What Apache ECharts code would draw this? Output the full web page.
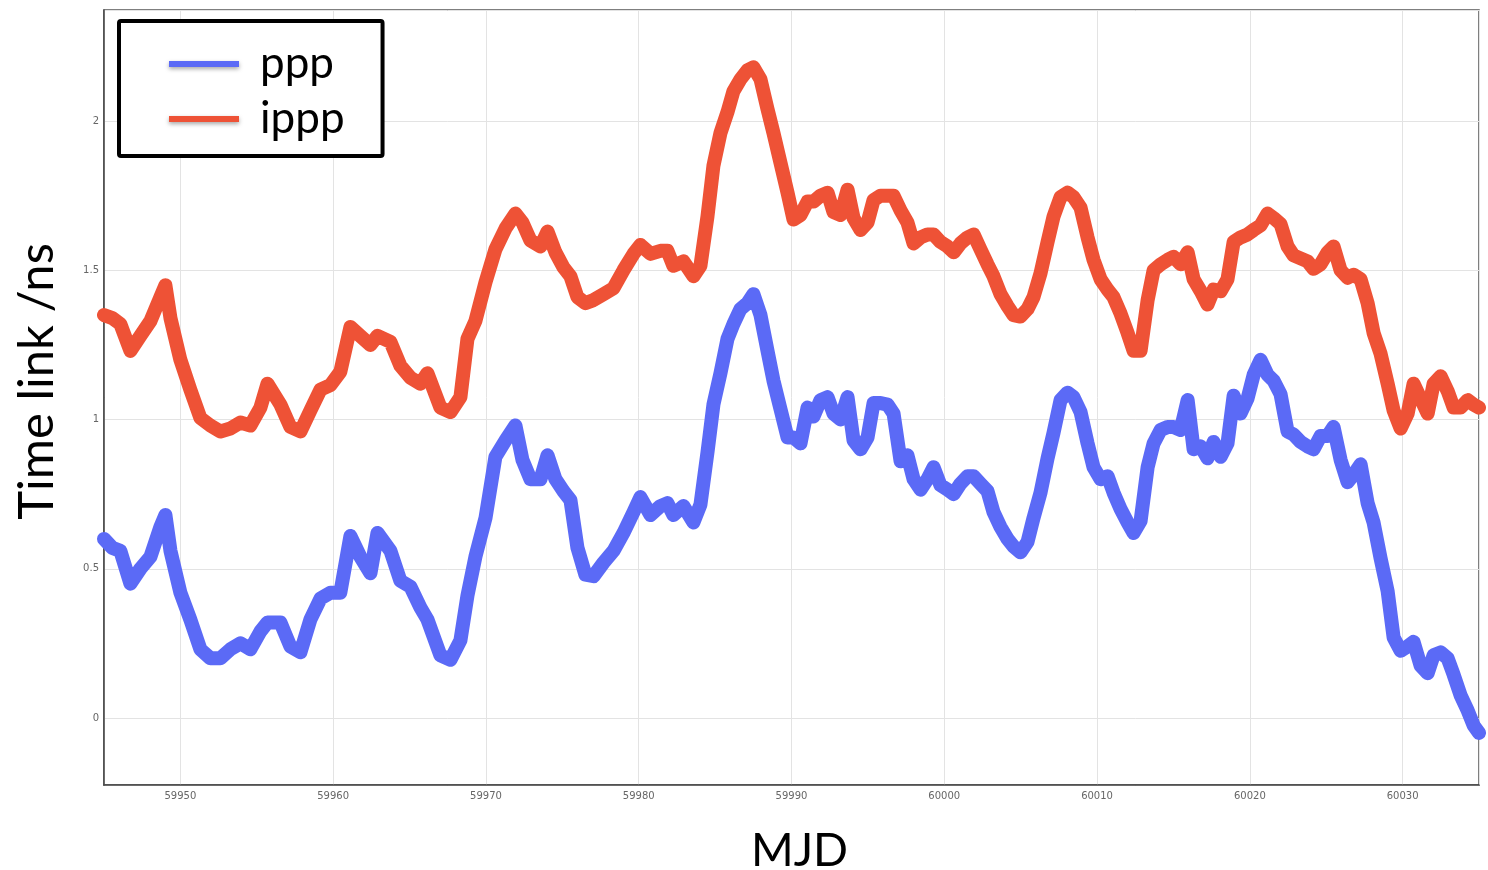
<!DOCTYPE html>
<html>
<head>
<meta charset="utf-8">
<script src="https://cdn.jsdelivr.net/npm/echarts@6/dist/echarts.min.js"></script>
<style>
html,body{margin:0;padding:0;background:#fff;}
#chart{width:1488px;height:870px;}
</style>
</head>
<body>
<div id="chart"></div>
<script>
// MJD sample positions (shared by both series)
const mjd = [
59945.0,59945.55,59946.07,59946.73,59947.38,59948.04,59948.69,59949.02,59949.35,59950.0,
59950.65,59951.31,59951.96,59952.62,59953.27,59953.93,59954.58,59955.24,59955.70,59956.55,
59957.20,59957.86,59958.51,59959.17,59959.82,59960.47,59961.13,59961.78,59962.44,59962.90,
59963.75,59964.40,59965.06,59965.71,59966.17,59967.02,59967.68,59968.33,59968.79,59969.31,
59969.97,59970.62,59971.28,59971.93,59972.39,59972.91,59973.57,59974.03,59974.55,59975.07,
59975.53,59975.99,59976.51,59977.04,59977.69,59978.35,59979.00,59979.66,59980.11,59980.77,
59981.42,59981.88,59982.27,59982.93,59983.58,59984.04,59984.50,59984.89,59985.35,59985.81,
59986.20,59986.66,59987.12,59987.51,59987.97,59988.43,59988.82,59989.28,59989.74,59990.13,
59990.59,59991.05,59991.44,59991.90,59992.36,59992.75,59993.21,59993.67,59994.06,59994.52,
59994.98,59995.37,59995.83,59996.29,59996.68,59997.14,59997.59,59997.99,59998.45,59998.90,
59999.30,59999.75,60000.21,60000.61,60001.06,60001.52,60001.92,60002.37,60002.83,60003.22,
60003.68,60004.14,60004.53,60004.99,60005.45,60005.84,60006.30,60006.76,60007.15,60007.61,
60008.07,60008.46,60008.92,60009.38,60009.77,60010.23,60010.69,60011.08,60011.54,60012.00,
60012.39,60012.85,60013.31,60013.70,60014.16,60014.62,60015.01,60015.47,60015.93,60016.32,
60016.78,60017.23,60017.63,60018.09,60018.54,60018.94,60019.39,60019.85,60020.25,60020.70,
60021.16,60021.56,60022.01,60022.47,60022.86,60023.32,60023.78,60024.17,60024.63,60025.09,
60025.48,60025.94,60026.40,60026.79,60027.25,60027.71,60028.10,60028.56,60029.02,60029.41,
60029.87,60030.33,60030.72,60031.18,60031.64,60032.03,60032.49,60032.95,60033.34,60033.80,
60034.26,60034.65,60035.0
];

const ppp = [
0.60,0.57,0.56,0.45,0.50,0.54,0.64,0.68,0.56,0.42,
0.33,0.23,0.20,0.20,0.23,0.25,0.23,0.29,0.32,0.32,
0.24,0.22,0.33,0.40,0.42,0.42,0.61,0.54,0.485,0.62,
0.56,0.46,0.44,0.37,0.33,0.21,0.195,0.26,0.41,0.54,
0.67,0.875,0.93,0.98,0.865,0.80,0.80,0.88,0.80,0.76,
0.73,0.57,0.48,0.475,0.52,0.56,0.62,0.69,0.74,0.68,
0.71,0.72,0.68,0.71,0.655,0.715,0.89,1.05,1.155,1.27,
1.32,1.37,1.39,1.42,1.35,1.23,1.13,1.035,0.94,0.94,
0.92,1.04,1.01,1.065,1.075,1.02,1.00,1.075,0.93,0.90,
0.94,1.055,1.055,1.05,1.02,0.86,0.88,0.80,0.765,0.80,
0.84,0.78,0.765,0.75,0.785,0.81,0.81,0.785,0.76,0.69,
0.64,0.60,0.575,0.555,0.59,0.67,0.755,0.87,0.955,1.065,
1.09,1.075,1.025,0.92,0.84,0.80,0.81,0.755,0.70,0.655,
0.62,0.66,0.84,0.92,0.965,0.975,0.975,0.965,1.065,0.90,
0.91,0.87,0.925,0.875,0.92,1.08,1.02,1.07,1.15,1.20,
1.15,1.13,1.085,0.96,0.95,0.925,0.91,0.90,0.945,0.945,
0.975,0.865,0.79,0.815,0.85,0.72,0.655,0.535,0.425,0.27,
0.225,0.24,0.255,0.175,0.15,0.21,0.22,0.20,0.145,0.075,
0.025,-0.025,-0.05
];

const ippp = [
1.35,1.34,1.32,1.23,1.28,1.33,1.41,1.45,1.34,1.20,
1.10,1.005,0.98,0.96,0.97,0.99,0.98,1.04,1.12,1.05,
0.975,0.96,1.03,1.10,1.115,1.16,1.31,1.28,1.25,1.28,
1.26,1.18,1.14,1.12,1.155,1.04,1.025,1.075,1.27,1.33,
1.46,1.57,1.64,1.69,1.66,1.60,1.58,1.63,1.56,1.51,
1.48,1.41,1.39,1.40,1.42,1.44,1.50,1.555,1.585,1.555,
1.565,1.565,1.515,1.53,1.48,1.515,1.68,1.85,1.96,2.03,
2.10,2.14,2.17,2.18,2.14,2.04,1.96,1.86,1.76,1.67,
1.685,1.73,1.73,1.75,1.76,1.695,1.685,1.77,1.675,1.635,
1.66,1.735,1.75,1.75,1.75,1.70,1.66,1.59,1.61,1.62,
1.62,1.595,1.58,1.56,1.59,1.61,1.62,1.57,1.52,1.48,
1.42,1.38,1.35,1.345,1.37,1.41,1.49,1.595,1.68,1.745,
1.76,1.745,1.71,1.61,1.535,1.47,1.435,1.41,1.355,1.29,
1.23,1.23,1.40,1.50,1.52,1.535,1.545,1.52,1.56,1.47,
1.43,1.385,1.435,1.43,1.47,1.595,1.61,1.62,1.635,1.65,
1.69,1.675,1.655,1.58,1.55,1.54,1.53,1.505,1.52,1.56,
1.58,1.50,1.475,1.485,1.47,1.39,1.29,1.22,1.12,1.03,
0.97,1.02,1.12,1.07,1.02,1.12,1.145,1.095,1.04,1.04,
1.065,1.05,1.04
];

const seriesNames = ['ppp', 'ippp'];
const xName = 'MJD';
const yName = 'Time link /ns';

const pair = (xs, ys) => xs.map((x, i) => [x, ys[i]]);

const chart = echarts.init(document.getElementById('chart'), null, {renderer: 'canvas'});
const blue = '#5B6AF6';
const red = '#EE5236';
const tickFont = {fontSize: 10, color: '#666', fontFamily: 'DejaVu Sans'};

chart.setOption({
  animation: false,
  backgroundColor: '#ffffff',
  grid: {
    left: 104, right: 9, top: 10, bottom: 85,
    containLabel: false,
    outerBoundsMode: 'none',
    show: true, borderColor: '#555', borderWidth: 1.5, backgroundColor: 'transparent'
  },
  legend: {
    orient: 'vertical',
    left: 119, top: 21,
    padding: [18, 38, 12, 50],
    itemGap: 5,
    itemWidth: 70, itemHeight: 6,
    icon: 'rect',
    borderColor: '#000', borderWidth: 4, borderRadius: 2,
    backgroundColor: '#fff',
    textStyle: {fontSize: 44, fontFamily: 'Lato', color: '#000', lineHeight: 46, padding: [0, 0, 4, 16]},
    itemStyle: {shadowColor: 'rgba(0,0,0,0.35)', shadowBlur: 4, shadowOffsetY: 2},
    data: seriesNames
  },
  xAxis: {
    type: 'value',
    min: 59945, max: 60035,
    splitNumber: 9,
    name: xName,
    nameLocation: 'middle',
    nameGap: 43,
    nameTextStyle: {fontSize: 46, fontFamily: 'Lato', color: '#000', padding: [0, 0, 0, 16]},
    axisLine: {show: true, onZero: false, lineStyle: {color: '#444', width: 1.5}},
    axisTick: {show: false},
    axisLabel: Object.assign({margin: 6, showMinLabel: false, showMaxLabel: false, formatter: v => String(v)}, tickFont),
    splitLine: {show: true, lineStyle: {color: '#e3e3e3', width: 1}}
  },
  yAxis: {
    type: 'value',
    min: -0.2245, max: 2.372,
    splitNumber: 5,
    name: yName,
    nameLocation: 'middle',
    nameGap: 42,
    nameRotate: 90,
    nameTextStyle: {fontSize: 49, fontFamily: 'Lato', color: '#000', padding: [0, 0, 0, 32]},
    axisLine: {show: true, onZero: false, lineStyle: {color: '#444', width: 1.5}},
    axisTick: {show: false},
    axisLabel: Object.assign({margin: 5, showMinLabel: false, showMaxLabel: false}, tickFont),
    splitLine: {show: true, lineStyle: {color: '#e3e3e3', width: 1}}
  },
  series: [
    {
      name: seriesNames[0], type: 'line', data: pair(mjd, ppp),
      showSymbol: false, symbol: 'none', sampling: null,
      color: blue,
      lineStyle: {color: blue, width: 14, join: 'round', cap: 'round'}
    },
    {
      name: seriesNames[1], type: 'line', data: pair(mjd, ippp),
      showSymbol: false, symbol: 'none', sampling: null,
      color: red,
      lineStyle: {color: red, width: 14, join: 'round', cap: 'round'}
    }
  ]
});
</script>
</body>
</html>
